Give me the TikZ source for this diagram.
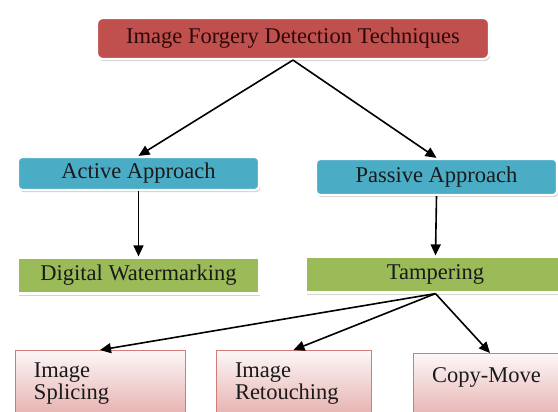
\documentclass[tikz,border=0pt]{standalone}
\usepackage{fontspec}
\setmainfont{Liberation Serif}
\usepackage{tikz}
\usetikzlibrary{arrows.meta,positioning,shadows}
\definecolor{brick}{HTML}{C0504D}
\definecolor{aqua}{HTML}{4BACC6}
\definecolor{olive}{HTML}{9BBB59}
\definecolor{blush}{HTML}{E6B0AF}
\definecolor{ink}{HTML}{1A1A1A}
\definecolor{maroonink}{HTML}{2E0808}
\tikzset{
  framedbox/.style={
    rectangle, draw=white, line width=2.2pt, fill=#1,
    rounded corners=4pt, text=ink,
    font=\fontsize{22.5}{23}\selectfont, align=center, inner sep=3pt,
    drop shadow={shadow xshift=1.2pt, shadow yshift=-2.2pt, opacity=0.35}
  },
  framedbox/.default=aqua,
  titlebox/.style={
    framedbox=brick, text=maroonink, rounded corners=6pt,
    minimum width=392pt, minimum height=41pt
  },
  approachbox/.style={
    framedbox=aqua, minimum width=241pt, minimum height=#1
  },
  approachbox/.default=34pt,
  methodbox/.style={
    framedbox=olive, rounded corners=0pt, minimum width=#1, minimum height=36pt
  },
  methodbox/.default=241pt,
  leafbox/.style={
    rectangle, draw=brick!75, thick, top color=white!90!blush,
    bottom color=blush, text=ink, anchor=north,
    font=\fontsize{22.5}{22.5}\selectfont, align=left,
    text width=#1, inner xsep=19pt, inner ysep=9pt, minimum height=66pt
  },
  leafbox/.default=132pt,
  flowarrow/.style={
    -{Triangle[length=11pt,width=10pt]}, line width=1.6pt, color=black
  },
}

\begin{document}
\begin{tikzpicture}[x=1pt,y=-1pt]
  \useasboundingbox (0,0) rectangle (558,412);
  \clip (0,0) rectangle (558,412);

  % Root
  \node[titlebox] at (293,38.5) (root) {Image Forgery Detection Techniques};

  % Approaches
  \node[approachbox=33pt] at (138.5,173.5) (active) {Active Approach};
  \node[approachbox=36pt] at (436.5,177) (passive) {Passive Approach};

  % Second level
  \node[methodbox] at (138.5,275.5) (watermark) {Digital Watermarking};
  \node[methodbox=259pt] at (435.5,274.5) (tamper) {Tampering};

  % Kinds of tampering
  \node[leafbox=132pt] at (100,350) (splicing) {Image\\Splicing};
  \node[leafbox=117pt] at (293.5,350) (retouch) {Image\\Retouching};
  \node[leafbox=116pt] at (490,353) (copymove) {Copy-Move\\\mbox{}};

  % Arrows
  \foreach \a/\b in {root/active,root/passive,active/watermark,passive/tamper,
                     tamper/splicing,tamper/retouch,tamper/copymove} {
    \draw[flowarrow] (\a.south) -- (\b.north);
  }
\end{tikzpicture}
\end{document}
